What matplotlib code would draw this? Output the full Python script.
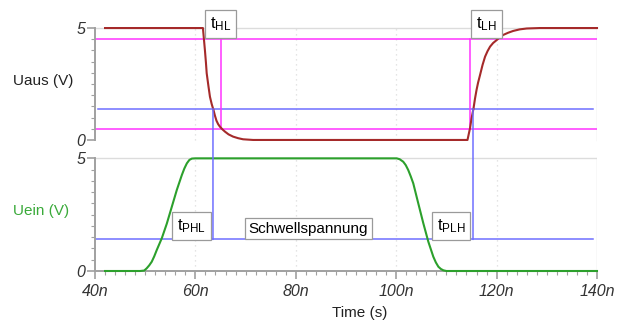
import matplotlib
matplotlib.use("Agg")
import matplotlib.pyplot as plt
from matplotlib.patches import ConnectionPatch
from matplotlib.ticker import MultipleLocator, FixedLocator

plt.rcParams['font.family'] = ['Liberation Sans', 'DejaVu Sans']

# ---- data (time in ns, voltage in V) ----
t_out = [42, 61.5, 61.7, 61.9, 62.1, 62.25, 62.6, 62.9, 63.25, 63.6, 63.9, 64.2, 64.55,
         64.9, 65.4, 65.9, 66.6, 67.5, 68.5, 69.5, 71.5,
         114.2, 114.7, 115.0, 115.4, 115.7, 116.0, 116.3, 116.7, 117.2, 117.7, 118.2,
         118.7, 119.3, 120.0, 120.6, 121.3, 122.3, 123.3, 124.6, 126.0, 128.6, 140]
u_out = [5.0, 5.0, 4.5, 4.0, 3.45, 2.98, 2.4, 1.93, 1.6, 1.34, 1.08, 0.86, 0.7,
         0.59, 0.47, 0.37, 0.25, 0.15, 0.08, 0.03, 0.0,
         0.0, 0.52, 0.95, 1.41, 1.85, 2.23, 2.55, 2.9, 3.35, 3.72, 3.97,
         4.17, 4.33, 4.46, 4.58, 4.69, 4.79, 4.87, 4.94, 4.98, 5.0, 5.0]

t_in = [42, 49.0, 49.8, 50.3, 50.8, 51.3, 51.8, 52.3, 53.3, 54.3, 55.3, 56.3, 57.3,
        57.8, 58.3, 58.8, 59.3, 60.0,
        100.1, 100.7, 101.4, 101.9, 102.4, 102.9, 103.4, 104.4, 105.4, 106.4, 107.4,
        107.9, 108.4, 108.9, 109.4, 110.0, 140]
u_in = [0.0, 0.0, 0.02, 0.12, 0.25, 0.41, 0.65, 0.93, 1.45, 2.1, 2.85, 3.6, 4.26,
        4.55, 4.78, 4.93, 4.99, 5.0,
        5.0, 4.96, 4.85, 4.7, 4.48, 4.2, 3.89, 3.0, 2.12, 1.3, 0.63,
        0.38, 0.19, 0.09, 0.03, 0.0, 0.0]

u_high = 4.5          # 90 % level
u_low = 0.5           # 10 % level
u_threshold = 1.4     # Schwellspannung
t_hl = 65.1           # output reaches 10 %
t_lh = 114.7          # output leaves 10 %
t_phl = 63.5          # output crosses threshold (falling)
t_plh = 115.3         # output crosses threshold (rising)

xticks = [40, 60, 80, 100, 120, 140]
xtick_labels = ["40n", "60n", "80n", "100n", "120n", "140n"]
yticks = [0, 5]
ytick_labels = ["0", "5"]

# ---- figure ----
W, H = 621, 322
fig = plt.figure(figsize=(W / 100, H / 100), dpi=100)

x0, x1 = 95, 597
ax1 = fig.add_axes([x0 / W, 1 - 142.2 / H, (x1 - x0) / W, 116.4 / H])
ax2 = fig.add_axes([x0 / W, 1 - 271.0 / H, (x1 - x0) / W, 114.0 / H])

red = '#a52a2a'
green = '#2ca02c'
pink = '#ff33ff'
blue = '#6f6fff'
spine_c = '#a0a0a0'
grid_c = '#dcdcdc'

for ax in (ax1, ax2):
    ax.set_xlim(40, 140)
    for s in ('top', 'right', 'bottom'):
        ax.spines[s].set_visible(False)
    ax.spines['left'].set_color(spine_c)
    ax.spines['left'].set_linewidth(1.4)
    ax.spines['left'].set_bounds(0, 5)
    ax.yaxis.set_major_locator(FixedLocator(yticks))
    ax.set_yticklabels(ytick_labels, fontsize=11.5, fontstyle='italic', color='#333333')
    ax.yaxis.set_minor_locator(MultipleLocator(0.5))
    ax.tick_params(axis='y', which='major', length=6, color=spine_c, width=1.2, pad=1)
    ax.tick_params(axis='y', which='minor', length=3, color=spine_c, width=0.8)
    for xv in (60, 80, 100, 120):
        ax.plot([xv, xv], [0, 5], color=grid_c, lw=0.9, ls=(0, (1, 3)), zorder=0)
    ax.plot([140, 140], [0, 5], color=grid_c, lw=1.0, zorder=0)
    ax.plot([40, 140], [5, 5], color=grid_c, lw=1.0, zorder=0)

ax1.set_ylim(-0.1, 5.1)
ax2.set_ylim(0, 5.06)
ax1.set_xticks([])

ax2.spines['bottom'].set_visible(True)
ax2.spines['bottom'].set_color(spine_c)
ax2.spines['bottom'].set_linewidth(1.4)
ax2.set_xticks(xticks)
ax2.set_xticklabels(xtick_labels, fontsize=11.5, fontstyle='italic', color='#333333')
ax2.xaxis.set_minor_locator(MultipleLocator(2))
ax2.tick_params(axis='x', which='major', length=6, color=spine_c, width=1.2, pad=3)
ax2.tick_params(axis='x', which='minor', length=3, color=spine_c, width=0.8)

# reference lines
ax1.plot([40, 140], [u_high, u_high], color=pink, lw=1.1, zorder=2)
ax1.plot([40, 140], [u_low, u_low], color=pink, lw=1.1, zorder=2)
ax1.plot([40.5, 139.2], [u_threshold, u_threshold], color=blue, lw=1.1, zorder=2)
ax2.plot([40, 139.2], [u_threshold, u_threshold], color=blue, lw=1.1, zorder=2)
ax1.plot([t_hl, t_hl], [u_low, u_high], color=pink, lw=1.1, zorder=2)
ax1.plot([t_lh, t_lh], [u_low, u_high], color=pink, lw=1.1, zorder=2)
for tv in (t_phl, t_plh):
    con = ConnectionPatch(xyA=(tv, u_threshold), coordsA=ax1.transData,
                          xyB=(tv, u_threshold), coordsB=ax2.transData,
                          color=blue, lw=1.1, zorder=2)
    fig.add_artist(con)

# curves
ax1.plot(t_out, u_out, color=red, lw=1.5, zorder=3, clip_on=False)
ax2.plot(t_in, u_in, color=green, lw=1.5, zorder=3, clip_on=False)

# annotation boxes
box = dict(boxstyle='square,pad=0.3', fc='white', ec='#9a9a9a', lw=0.9)
fs = 11
fst = 12
ax1.text(65.0, 5.17, r'$\mathregular{t_{HL}}$', ha='center', va='center', fontsize=fst,
         bbox=box, clip_on=False, zorder=5)
ax1.text(118.0, 5.17, r'$\mathregular{t_{LH}}$', ha='center', va='center', fontsize=fst,
         bbox=box, clip_on=False, zorder=5)
ax2.text(59.3, 2.0, r'$\mathregular{t_{PHL}}$', ha='center', va='center', fontsize=fst,
         bbox=box, zorder=5)
ax2.text(82.5, 1.88, 'Schwellspannung', ha='center', va='center', fontsize=fs,
         bbox=dict(boxstyle='square,pad=0.25', fc='white', ec='#9a9a9a', lw=0.9), zorder=5)
ax2.text(110.9, 2.0, r'$\mathregular{t_{PLH}}$', ha='center', va='center', fontsize=fst,
         bbox=box, zorder=5)

# axis labels
fig.text(43 / W, 1 - 81 / H, 'Uaus (V)', ha='center', va='center', fontsize=fs, color='#222222')
fig.text(41 / W, 1 - 211 / H, 'Uein (V)', ha='center', va='center', fontsize=fs, color='#3aaa3a')
fig.text(360 / W, 1 - 313 / H, 'Time (s)', ha='center', va='center', fontsize=fs, color='#222222')

fig.savefig('out.png', dpi=100, facecolor='white')
